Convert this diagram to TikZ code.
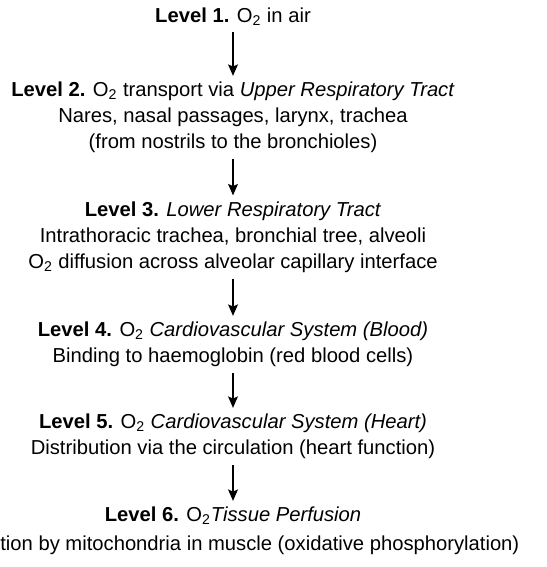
\documentclass[tikz,border=0pt]{standalone}
\usepackage{fontspec}
\setmainfont{Liberation Sans}
\usetikzlibrary{arrows.meta}

\begin{document}
\begin{tikzpicture}[x=0.2mm,y=-0.2mm,
  >={Stealth[length=6.5pt,width=5.6pt,inset=1.2pt]},
  level/.style={align=center,font=\fontsize{11.5}{14.8}\selectfont}]
  \useasboundingbox (0,0) rectangle (546,567);
  % levels
  \node[level] (l1) at (233,17) {\textbf{Level 1.} O\textsubscript{2} in air};
  \node[level] (l2) at (233,117.5) {\textbf{Level 2.} O\textsubscript{2} transport via \textit{Upper Respiratory Tract}\\
    Nares, nasal passages, larynx, trachea\\
    (from nostrils to the bronchioles)};
  \node[level] (l3) at (233,237) {\textbf{Level 3.} \textit{Lower Respiratory Tract}\\
    Intrathoracic trachea, bronchial tree, alveoli\\
    O\textsubscript{2} diffusion across alveolar capillary interface};
  \node[level] (l4) at (233,344.5) {\textbf{Level 4.} O\textsubscript{2} \textit{Cardiovascular System (Blood)}\\
    Binding to haemoglobin (red blood cells)};
  \node[level] (l5) at (233,436.5) {\textbf{Level 5.} O\textsubscript{2} \textit{Cardiovascular System (Heart)}\\
    Distribution via the circulation (heart function)};
  \node[level] (l6) at (233,516) {\textbf{Level 6.} O\textsubscript{2}\textit{Tissue Perfusion}};
  \node[level,anchor=west,inner xsep=0pt] (l6b) at (0,545)
    {tion by mitochondria in muscle (oxidative phosphorylation)};
  % arrows
  \draw[->,line width=0.7pt] (l1) -- (l2);
  \draw[->,line width=0.7pt] (l2) -- (l3);
  \draw[->,line width=0.7pt] (l3) -- (l4);
  \draw[->,line width=0.7pt] (l4) -- (l5);
  \draw[->,line width=0.7pt] (l5) -- (l6);
\end{tikzpicture}
\end{document}
